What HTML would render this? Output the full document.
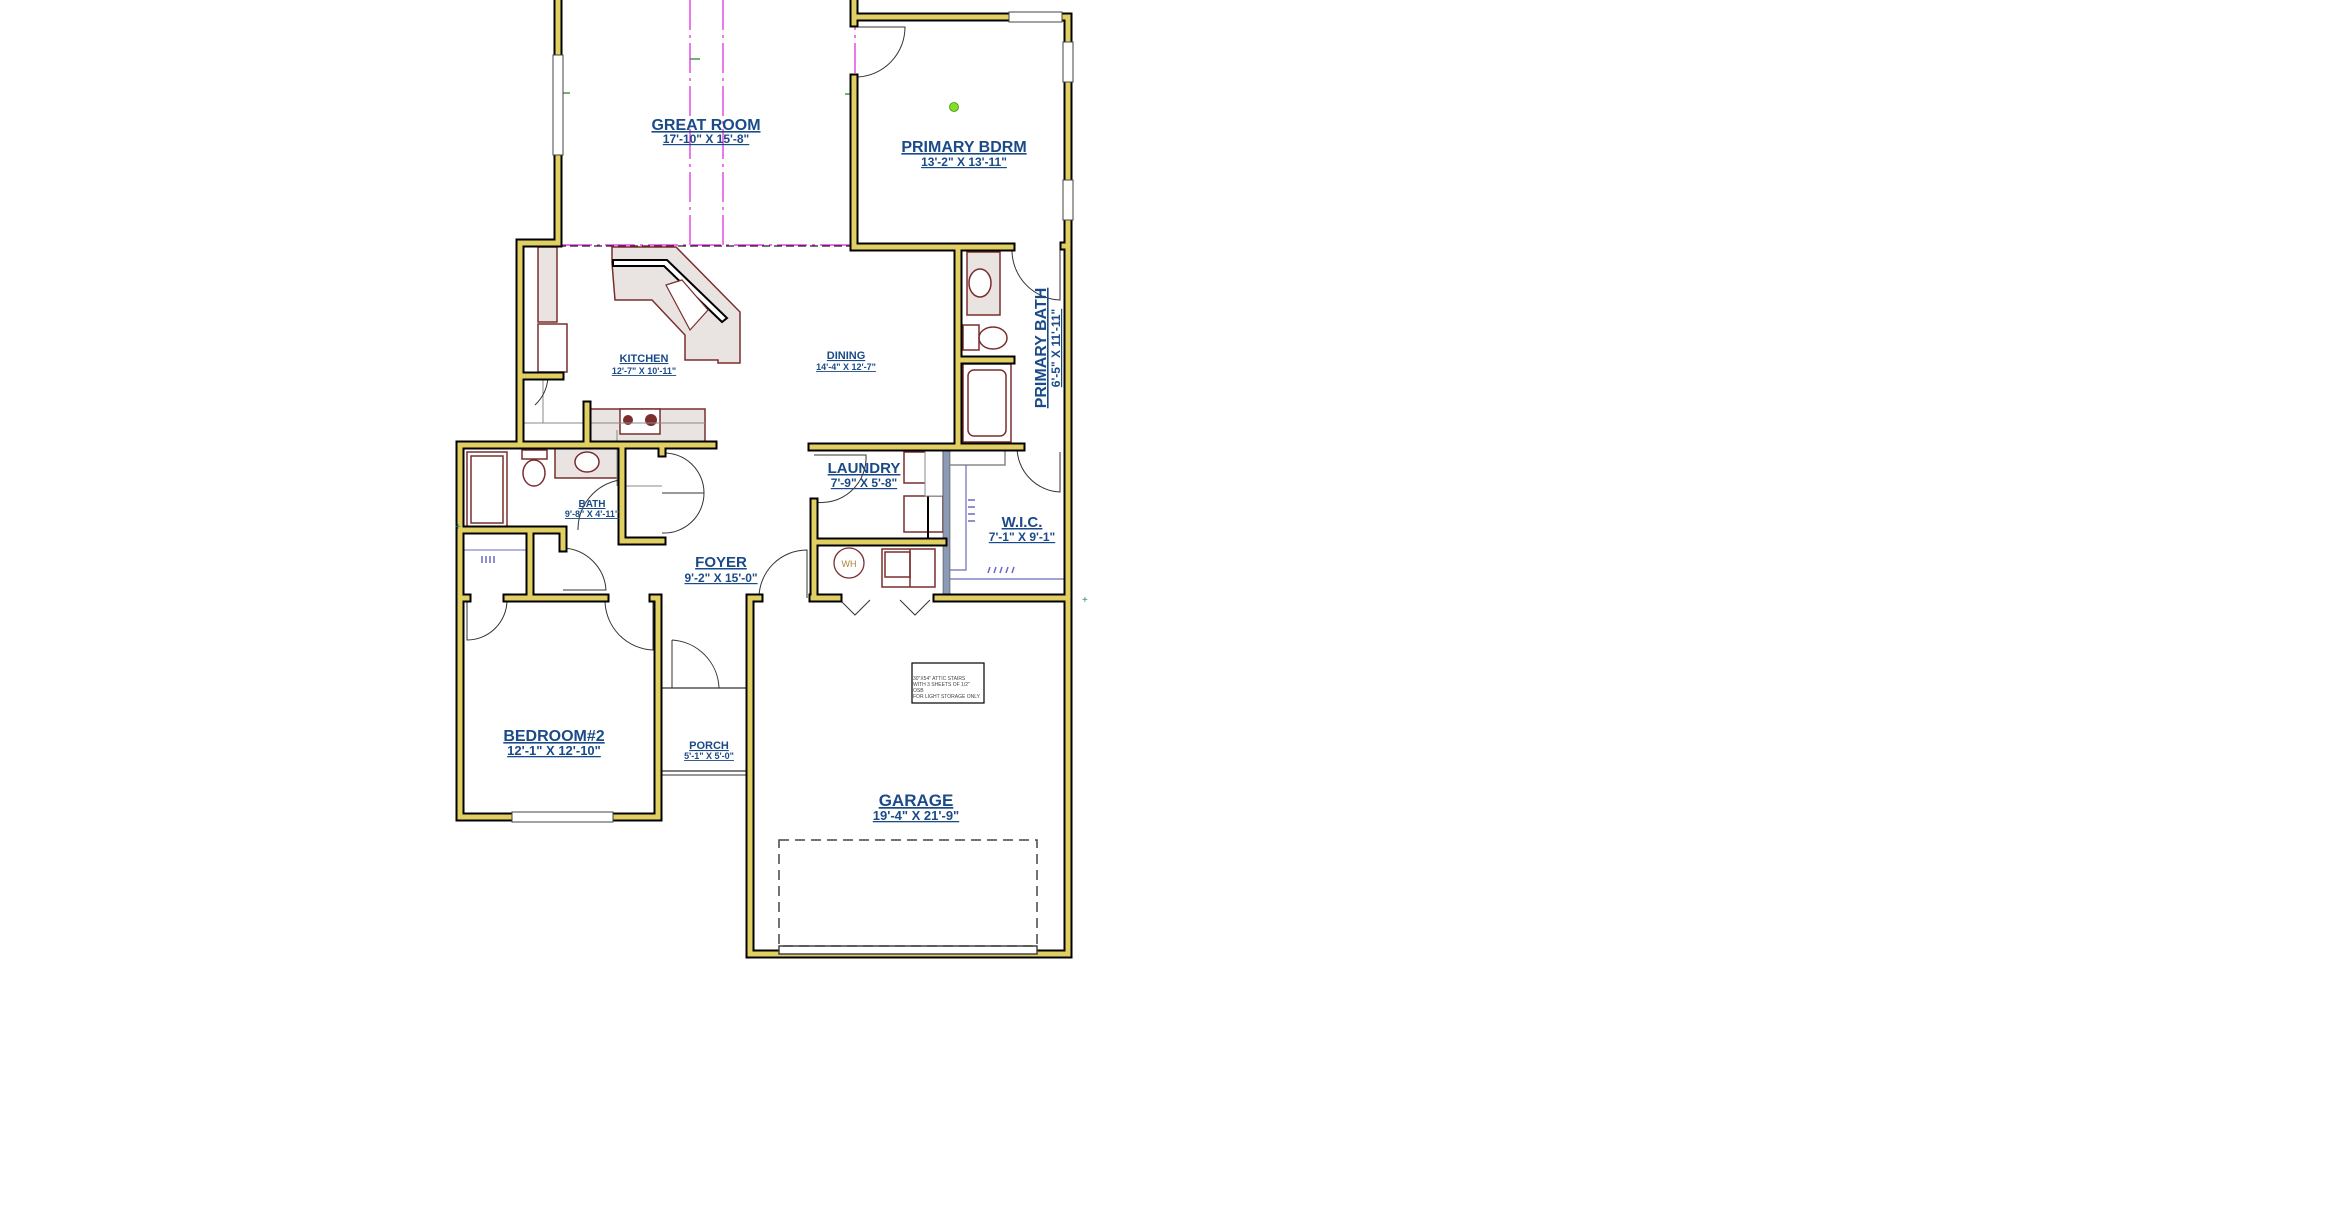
<!DOCTYPE html>
<html><head><meta charset="utf-8">
<style>
html,body{margin:0;padding:0;background:#fff;}
svg{display:block;}
.t{font-family:"Liberation Sans",sans-serif;font-weight:bold;fill:#1b4a88;text-anchor:middle;text-decoration:underline;}
.c{fill:#e9e3e1;stroke:#7a2e2e;stroke-width:1.5;}
.d{fill:none;stroke:#333;stroke-width:1;}
.f{fill:none;stroke:#7a2e2e;stroke-width:1.5;}
</style></head>
<body>
<svg width="2338" height="1207" viewBox="0 0 2338 1207" xmlns="http://www.w3.org/2000/svg">
<rect width="2338" height="1207" fill="#fff"/>

<g fill="none" stroke="#e020e0" stroke-width="1.2" stroke-dasharray="30,5,3,5">
<line x1="690" y1="0" x2="690" y2="245"/>
<line x1="723" y1="0" x2="723" y2="245"/>
<line x1="855" y1="0" x2="855" y2="245"/>
<line x1="562" y1="245" x2="854" y2="245"/>
</g>
<line x1="558" y1="246" x2="854" y2="246" stroke="#222" stroke-width="1.2" stroke-dasharray="8,4"/>
<g stroke="#1a7a1a" stroke-width="1.2">
<line x1="690" y1="59" x2="700" y2="59"/><line x1="558" y1="93" x2="570" y2="93"/><line x1="845" y1="94" x2="854" y2="94"/>
</g>

<rect class="c" x="538" y="247" width="19" height="75"/>
<rect x="538" y="324" width="29" height="48" fill="#fff" stroke="#7a2e2e" stroke-width="1.5"/>
<rect class="c" x="590" y="409" width="115" height="33"/>
<rect x="620" y="409" width="40" height="25" fill="#fff" stroke="#7a2e2e" stroke-width="1.5"/>
<circle cx="628" cy="420" r="5" fill="#7a2e2e"/><circle cx="651" cy="420" r="6" fill="#7a2e2e"/>
<line x1="520" y1="423" x2="705" y2="423" stroke="#888" stroke-width="1"/>
<line x1="543" y1="376" x2="543" y2="423" stroke="#888" stroke-width="1"/>
<polygon class="c" points="612,247 676,247 740,312 740,363 718,363 718,360 685,360 685,335 652,300 615,300 612,263"/>
<polygon points="613,260 667,260 727,318 722,322 664,266 613,266" fill="#fff" stroke="#000" stroke-width="2"/>
<polygon points="666,285 682,280 708,310 690,330" fill="#fff" stroke="#7a2e2e" stroke-width="1.2"/>

<rect x="467" y="452" width="40" height="75" fill="#fff" stroke="#7a2e2e" stroke-width="1.5"/>
<rect x="471" y="456" width="32" height="67" class="f"/>
<ellipse cx="534" cy="473" rx="11" ry="13" class="f"/><rect x="522" y="450" width="25" height="9" class="f"/>
<rect class="c" x="555" y="448" width="65" height="30"/>
<ellipse cx="587" cy="462" rx="12" ry="10" fill="#fff" stroke="#7a2e2e" stroke-width="1.5"/>
<line x1="622" y1="486" x2="662" y2="486" stroke="#888"/><line x1="617" y1="430" x2="617" y2="486" stroke="#888"/>
<line x1="460" y1="550" x2="530" y2="550" stroke="#6a6ac0"/>
<line x1="626" y1="497" x2="626" y2="540" stroke="#6a6ac0"/>

<rect class="c" x="967" y="252" width="33" height="63"/>
<ellipse cx="980" cy="283" rx="11" ry="14" fill="#fff" stroke="#7a2e2e" stroke-width="1.5"/>
<rect x="963" y="325" width="16" height="25" class="f"/><ellipse cx="993" cy="338" rx="14" ry="11" class="f"/>
<rect x="963" y="364" width="48" height="78" class="f"/><rect x="968" y="370" width="38" height="66" class="f" rx="6"/>

<rect x="904" y="452" width="22" height="31" class="f"/><rect x="904" y="496" width="39" height="36" class="f"/>
<line x1="928" y1="496" x2="928" y2="540" stroke="#000" stroke-width="2"/>
<rect x="925" y="449" width="18" height="47" fill="#fff" stroke="#888"/>
<circle cx="849" cy="563" r="15" fill="#fff" stroke="#7a2e2e" stroke-width="1.3"/>
<text x="849" y="567" font-family="Liberation Sans,sans-serif" font-size="9" fill="#b08030" text-anchor="middle">WH</text>
<rect x="882" y="549" width="53" height="38" class="f"/><rect x="885" y="552" width="25" height="25" class="f"/><line x1="910" y1="549" x2="910" y2="587" stroke="#7a2e2e" stroke-width="1.5"/>
<rect x="943" y="447" width="7" height="151" fill="#8c9bb5" stroke="#333" stroke-width="0.5"/>
<polyline points="950,465 1005,465 1005,447" fill="none" stroke="#888" stroke-width="1.5"/>
<polyline points="950,570 966,570 966,465" fill="none" stroke="#6a6ac0" stroke-width="1.2"/>
<line x1="950" y1="579" x2="1065" y2="579" stroke="#6a6ac0" stroke-width="1.2"/>
<g stroke="#6a6ac0" stroke-width="1.5"><line x1="968" y1="500" x2="975" y2="500"/><line x1="968" y1="507" x2="975" y2="507"/><line x1="968" y1="514" x2="975" y2="514"/><line x1="968" y1="521" x2="975" y2="521"/>
<line x1="988" y1="573" x2="990" y2="567"/><line x1="994" y1="573" x2="996" y2="567"/><line x1="1000" y1="573" x2="1002" y2="567"/><line x1="1006" y1="573" x2="1008" y2="567"/><line x1="1012" y1="573" x2="1014" y2="567"/>
<line x1="482" y1="563" x2="482" y2="556"/><line x1="486" y1="563" x2="486" y2="556"/><line x1="490" y1="563" x2="490" y2="556"/><line x1="494" y1="563" x2="494" y2="556"/></g>

<g class="d">
<path d="M858 27 H905 A50 50 0 0 1 858 77"/>
<path d="M1012 250 A50 50 0 0 0 1060 300 V250"/>
<path d="M1017 447 A45 45 0 0 0 1060 492 V452"/>
<path d="M814 502 A45 45 0 0 0 866 455 H814"/>
<path d="M759 598 A48 48 0 0 1 807 550 V598"/>
<path d="M662 453 A40 40 0 0 1 704 493 H662 M662 533 A40 40 0 0 0 704 493"/>
<path d="M563 548 A45 45 0 0 1 606 590 H563"/>
<path d="M578 530 A50 50 0 0 1 620 480 V530"/>
<path d="M520 376 H548 A40 40 0 0 1 535 405"/>
<path d="M467 600 V640 A40 40 0 0 0 507 600"/>
<path d="M605 600 A50 50 0 0 0 653 650 V600"/>
<path d="M672 640 V688 M672 640 A50 50 0 0 1 719 688"/>
<path d="M840 600 L855 615 L870 600 M900 600 L915 615 L930 600"/>
</g>
<line x1="658" y1="688" x2="750" y2="688" stroke="#333" stroke-width="1.2"/>
<line x1="658" y1="771" x2="750" y2="771" stroke="#333" stroke-width="1.2"/>
<line x1="658" y1="775" x2="750" y2="775" stroke="#333" stroke-width="1"/>

<g id="walls" fill="none" stroke-linejoin="miter" stroke-linecap="square">
<path d="M558 0 V243 H520 V445"/>
<path d="M854 0 V23 M854 78 V247 H1011"/>
<path d="M856 17 H1068 V246 H1064 M1068 246 V954 H750 V598 H759"/>
<path d="M813 598 H838 M937 598 H1068"/>
<path d="M958 247 V447 M958 360 H1011 M812 447 H1021"/>
<path d="M814 502 V598 M814 542 H943"/>
<path d="M460 445 H713 M460 445 V817 H658 V598 H653 M460 598 H467 M507 598 H605"/>
<path d="M622 445 V541 H662 M460 530 H563 M530 530 V598 M563 530 V548 M662 445 V453"/>
<path d="M520 376 H560 M587 405 V445"/>
</g>
<use href="#walls" stroke="#000" stroke-width="9"/>
<use href="#walls" stroke="#e1cf63" stroke-width="5"/>
<rect x="553" y="55" width="10" height="100" fill="#fff" stroke="#444" stroke-width="1"/>
<rect x="1009" y="12" width="53" height="10" fill="#fff" stroke="#444" stroke-width="1"/>
<rect x="1063" y="42" width="10" height="40" fill="#fff" stroke="#444" stroke-width="1"/>
<rect x="1063" y="180" width="10" height="40" fill="#fff" stroke="#444" stroke-width="1"/>
<rect x="512" y="812" width="101" height="10" fill="#fff" stroke="#444" stroke-width="1"/>
<rect x="779" y="946" width="258" height="8" fill="#fff" stroke="#444" stroke-width="1.5"/>
<rect x="779" y="840" width="258" height="106" fill="none" stroke="#444" stroke-width="1.5" stroke-dasharray="10,6"/>
<circle cx="954" cy="107" r="4.5" fill="#7ee020" stroke="#4a8a10" stroke-width="0.8"/>

<rect x="912" y="663" width="72" height="40" fill="#fff" stroke="#000" stroke-width="1.2"/>
<g font-family="Liberation Sans,sans-serif" font-size="5" fill="#444">
<text x="913" y="680">30"X54" ATTIC STAIRS</text><text x="913" y="686">WITH 3 SHEETS OF 1/2"</text><text x="913" y="692">OSB</text><text x="913" y="698">FOR LIGHT STORAGE ONLY</text></g>

<text class="t" x="706" y="130" font-size="16">GREAT ROOM</text>
<text class="t" x="706" y="143" font-size="12">17'-10" X 15'-8"</text>
<text class="t" x="964" y="152" font-size="16">PRIMARY BDRM</text>
<text class="t" x="964" y="166" font-size="12">13'-2" X 13'-11"</text>
<text class="t" x="644" y="362" font-size="11">KITCHEN</text>
<text class="t" x="644" y="374" font-size="9">12'-7" X 10'-11"</text>
<text class="t" x="846" y="359" font-size="11">DINING</text>
<text class="t" x="846" y="370" font-size="9">14'-4" X 12'-7"</text>
<text class="t" transform="translate(1046,348) rotate(-90)" font-size="16">PRIMARY BATH</text>
<text class="t" transform="translate(1060,348) rotate(-90)" font-size="12">6'-5" X 11'-11"</text>
<text class="t" x="864" y="473" font-size="15">LAUNDRY</text>
<text class="t" x="864" y="487" font-size="12">7'-9" X 5'-8"</text>
<text class="t" x="1022" y="527" font-size="15">W.I.C.</text>
<text class="t" x="1022" y="541" font-size="12">7'-1" X 9'-1"</text>
<text class="t" x="592" y="507" font-size="10">BATH</text>
<text class="t" x="592" y="517" font-size="9">9'-8" X 4'-11"</text>
<text class="t" x="721" y="567" font-size="15">FOYER</text>
<text class="t" x="721" y="582" font-size="12">9'-2" X 15'-0"</text>
<text class="t" x="554" y="741" font-size="16">BEDROOM#2</text>
<text class="t" x="554" y="755" font-size="13">12'-1" X 12'-10"</text>
<text class="t" x="709" y="749" font-size="11">PORCH</text>
<text class="t" x="709" y="759" font-size="9">5'-1" X 5'-0"</text>
<text class="t" x="916" y="806" font-size="17">GARAGE</text>
<text class="t" x="916" y="820" font-size="13">19'-4" X 21'-9"</text>
<text x="455" y="530" font-size="10" fill="#1a8a7a" font-family="Liberation Sans,sans-serif">+</text>
<text x="1082" y="603" font-size="10" fill="#1a8a7a" font-family="Liberation Sans,sans-serif">+</text>
</svg>
</body></html>
